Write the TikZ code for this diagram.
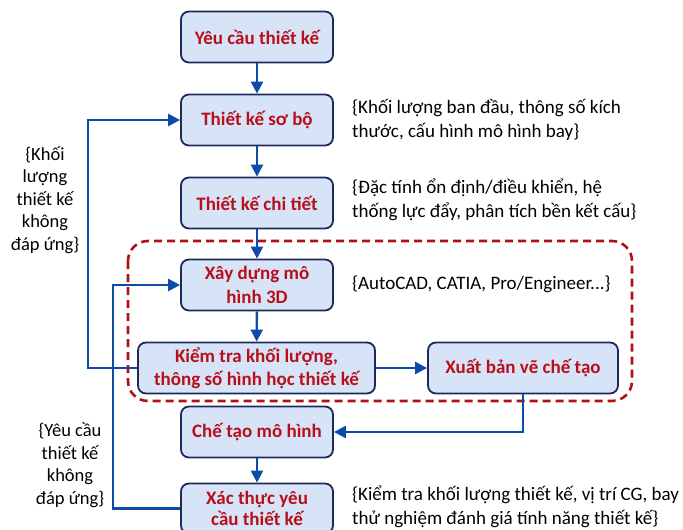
\documentclass[tikz,border=0pt]{standalone}
\usepackage{fontspec}
\setmainfont{Carlito}
\usetikzlibrary{arrows.meta,calc}
\definecolor{boxfill}{HTML}{D7E4F7}
\definecolor{boxborder}{HTML}{1C2A5C}
\definecolor{darkred}{HTML}{B80F1A}
\definecolor{flowblue}{HTML}{0D4BA8}
\definecolor{dashred}{HTML}{B0101A}
\tikzset{
  stepbox/.style={draw=boxborder, fill=boxfill, rounded corners=8pt, line width=1.8pt,
    minimum width=152pt, minimum height=51pt, align=center, text=darkred,
    font=\bfseries\fontsize{19}{23.5}\selectfont, inner sep=1pt},
  flow/.style={draw=flowblue, line width=2.4pt, -{Triangle[length=12pt,width=12pt]}},
  note/.style={align=left, font=\fontsize{19}{24}\selectfont, text=black, inner sep=0pt, anchor=west},
  sidenote/.style={align=center, font=\fontsize{18.5}{22.5}\selectfont, text=black, inner sep=0pt}
}
\begin{document}
\begin{tikzpicture}[x=1pt,y=-1pt]
\useasboundingbox (0,0) rectangle (683,530);
% dashed group
\draw[dashred, line width=2.6pt, dash pattern=on 8pt off 5pt, rounded corners=20pt]
  (128,241) rectangle (632,401);
% boxes
\node[stepbox] (b1) at (257,37) {Yêu cầu thiết kế};
\node[stepbox] (b2) at (257,120) {Thiết kế sơ bộ};
\node[stepbox] (b3) at (257,203) {Thiết kế chi tiết};
\node[stepbox] (b4) at (257,285) {Xây dựng mô\\hình 3D};
\node[stepbox, minimum width=237pt] (b5) at (256.5,368) {Kiểm tra khối lượng,\\thông số hình học thiết kế};
\node[stepbox, minimum width=190pt] (b6) at (523,368) {Xuất bản vẽ chế tạo};
\node[stepbox] (b7) at (257,432) {Chế tạo mô hình};
\node[stepbox, font=\bfseries\fontsize{19}{21.5}\selectfont, minimum height=50pt] (b8) at (257,508.5) {Xác thực yêu\\cầu thiết kế};
% notes
\node[note] (n1) at (352,120) {\{Khối lượng ban đầu, thông số kích\\thước, cấu hình mô hình bay\}};
\node[note] (n2) at (352,200) {\{Đặc tính ổn định/điều khiển, hệ\\thống lực đẩy, phân tích bền kết cấu\}};
\node[note] (n3) at (352,284) {\{AutoCAD, CATIA, Pro/Engineer...\}};
\node[note] (n4) at (352,506.5) {\{Kiểm tra khối lượng thiết kế, vị trí CG, bay\\thử nghiệm đánh giá tính năng thiết kế\}};
\node[sidenote] (s1) at (45,200) {\{Khối\\lượng\\thiết kế\\không\\đáp ứng\}};
\node[sidenote] (s2) at (70,465) {\{Yêu cầu\\thiết kế\\không\\đáp ứng\}};
% feedback columns
\coordinate (fb1) at (88,0);
\coordinate (fb2) at (113,0);
% connectors
\draw[flow] (b1) -- (b2);
\draw[flow] (b2) -- (b3);
\draw[flow] (b3) -- (b4);
\draw[flow] (b4) -- (b5);
\draw[flow] (b5) -- (b6);
\draw[flow] (b6.south) |- (b7.east);
\draw[flow] (b7) -- (b8);
\draw[flow] (b5.west) -- (b5.west -| fb1) |- (b2.west);
\draw[flow] (b8.west) -- (b8.west -| fb2) |- (b4.west);
\end{tikzpicture}
\end{document}
